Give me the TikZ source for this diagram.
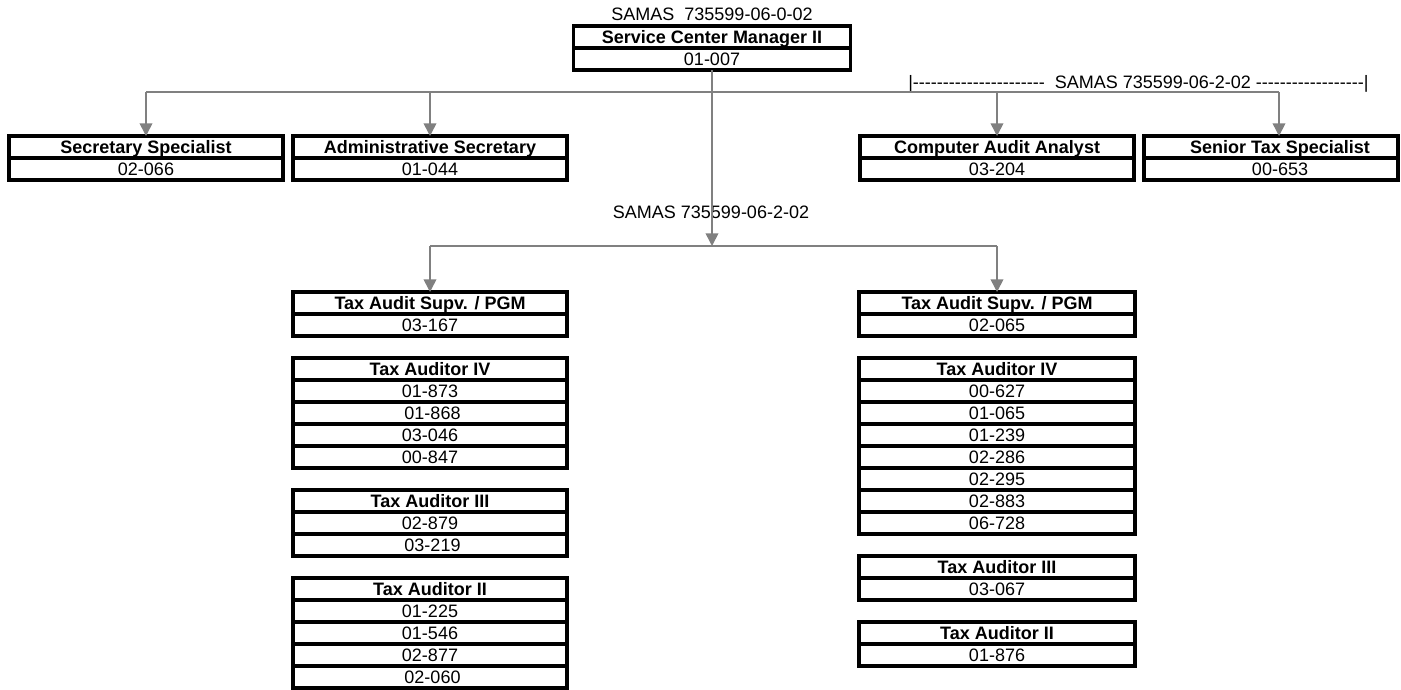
\documentclass[tikz,border=0pt]{standalone}
\usepackage{fontspec}
\setmainfont{Liberation Sans}
\usetikzlibrary{arrows.meta,positioning}

% a run of plain hyphens (no dash ligatures)
\newcommand{\dashrun}[1]{\foreach \k in {1,...,#1}{\hbox{-}}}

\begin{document}
\begin{tikzpicture}[
    x=0.75pt, y=-0.75pt,
    font=\fontsize{13.5}{16}\selectfont,
    cell/.style={rectangle, draw, line width=2.6pt, outer sep=0pt, inner sep=0pt, minimum width=205.5pt, minimum height=16.5pt, text height=10.5pt, text depth=1pt},
    head/.style={cell, font=\fontsize{13.5}{16}\selectfont\bfseries},
    link/.style={draw=black!50, line width=1.2pt},
    arrow/.style={link, -{Triangle[length=9.5pt, width=9.5pt]}}
]
\useasboundingbox (0,0) rectangle (1401,689);

% Manager
\node (topsamas) at (712,14) {SAMAS\ \ 735599-06-0-02};
\node[head, anchor=north, minimum width=207.75pt] (mgr) at (712,26) {Service Center Manager II};
\node[cell, below=0pt of mgr, minimum width=207.75pt] (mgrno) {01-007};

% Staff positions
\node[head, anchor=north] (secr) at (146,136) {Secretary Specialist};
\node[cell, below=0pt of secr] (secrno) {02-066};
\node[head, anchor=north] (admin) at (430,136) {Administrative Secretary};
\node[cell, below=0pt of admin] (adminno) {01-044};
\node[head, anchor=north] (caa) at (997,136) {Computer Audit Analyst};
\node[cell, below=0pt of caa] (caano) {03-204};
\node[head, anchor=north west, minimum width=190.5pt] (senior) at (1144,136) {\hspace*{13.5pt}Senior Tax Specialist};
\node[cell, below=0pt of senior, minimum width=190.5pt] (seniorno) {\hspace*{13.5pt}00-653};
\coordinate (seniortop) at (1279,136);

% Range label over the two right positions
\node[anchor=west, inner sep=0pt] (range) at (908,84) {|\dashrun{22}\ \ SAMAS 735599-06-2-02 \dashrun{18}|};

% Audit groups
\node (midsamas) at (711,212) {SAMAS 735599-06-2-02};
\coordinate (split) at (712,246);

% Left group
\node[head, anchor=north] (lsupv) at (430,292) {Tax Audit Supv. / PGM};
\node[cell, below=0pt of lsupv] (lsupv1) {03-167};

\node[head, below=16.5pt of lsupv1] (liv) {Tax Auditor IV};
\node[cell, below=0pt of liv] (liv1) {01-873};
\node[cell, below=0pt of liv1] (liv2) {\ 01-868};
\node[cell, below=0pt of liv2] (liv3) {03-046};
\node[cell, below=0pt of liv3] (liv4) {00-847};

\node[head, below=16.5pt of liv4] (liii) {Tax Auditor III};
\node[cell, below=0pt of liii] (liii1) {02-879};
\node[cell, below=0pt of liii1] (liii2) {\ 03-219};

\node[head, below=16.5pt of liii2] (lii) {Tax Auditor II};
\node[cell, below=0pt of lii] (lii1) {01-225};
\node[cell, below=0pt of lii1] (lii2) {01-546};
\node[cell, below=0pt of lii2] (lii3) {02-877};
\node[cell, below=0pt of lii3] (lii4) {\ 02-060};

% Right group
\node[head, anchor=north, minimum width=207pt] (rsupv) at (997,292) {Tax Audit Supv. / PGM};
\node[cell, below=0pt of rsupv, minimum width=207pt] (rsupv1) {02-065};

\node[head, below=16.5pt of rsupv1, minimum width=207pt] (riv) {Tax Auditor IV};
\node[cell, below=0pt of riv, minimum width=207pt] (riv1) {00-627};
\node[cell, below=0pt of riv1, minimum width=207pt] (riv2) {01-065};
\node[cell, below=0pt of riv2, minimum width=207pt] (riv3) {01-239};
\node[cell, below=0pt of riv3, minimum width=207pt] (riv4) {02-286};
\node[cell, below=0pt of riv4, minimum width=207pt] (riv5) {02-295};
\node[cell, below=0pt of riv5, minimum width=207pt] (riv6) {02-883};
\node[cell, below=0pt of riv6, minimum width=207pt] (riv7) {06-728};

\node[head, below=16.5pt of riv7, minimum width=207pt] (riii) {Tax Auditor III};
\node[cell, below=0pt of riii, minimum width=207pt] (riii1) {03-067};

\node[head, below=16.5pt of riii1, minimum width=207pt] (rii) {Tax Auditor II};
\node[cell, below=0pt of rii, minimum width=207pt] (rii1) {01-876};

% Connectors
\coordinate (bus) at (712,92);
\draw[link] (secr.north |- bus) -- (seniortop |- bus);
\draw[arrow] (secr.north |- bus) -- (secr.north);
\draw[arrow] (admin.north |- bus) -- (admin.north);
\draw[arrow] (caa.north |- bus) -- (caa.north);
\draw[arrow] (seniortop |- bus) -- (seniortop);

\draw[arrow] (mgrno.south) -- (split);
\draw[link] (lsupv.north |- split) -- (rsupv.north |- split);
\draw[arrow] (lsupv.north |- split) -- (lsupv.north);
\draw[arrow] (rsupv.north |- split) -- (rsupv.north);

\end{tikzpicture}
\end{document}
